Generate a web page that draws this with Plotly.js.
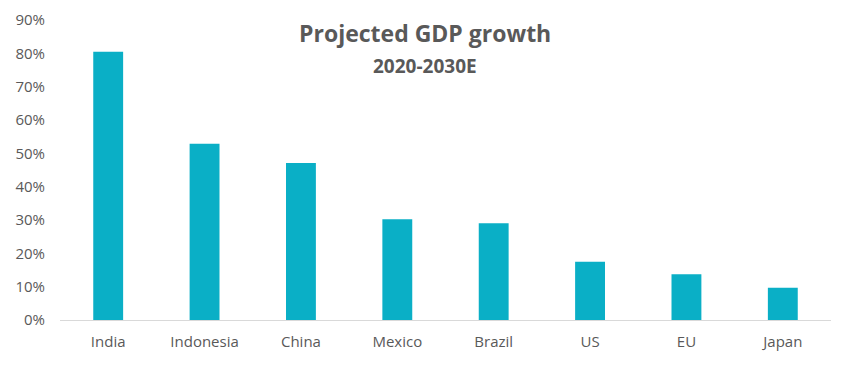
<!DOCTYPE html>
<html>
<head>
<meta charset="utf-8">
<script src="https://cdn.plot.ly/plotly-3.0.1.min.js"></script>
<style>html,body{margin:0;padding:0;background:#fff}#chart{width:851px;height:368px}</style>
</head>
<body>
<div id="chart"></div>
<script>
const categories = ["India", "Indonesia", "China", "Mexico", "Brazil", "US", "EU", "Japan"];
const growth = [0.805, 0.529, 0.471, 0.302, 0.290, 0.175, 0.137, 0.097];
const yTickVals = [0, 0.1, 0.2, 0.3, 0.4, 0.5, 0.6, 0.7, 0.8, 0.9];
const yTickText = ["0%", "10%", "20%", "30%", "40%", "50%", "60%", "70%", "80%", "90%"];
const titleText = "Projected GDP growth";
const subtitleText = "2020-2030E";

const font = "'Open Sans', 'Noto Sans', sans-serif";
const grey = "#595959";

Plotly.newPlot("chart", [{
  type: "bar",
  x: categories,
  y: growth,
  marker: {color: "#0aafc6"},
  hoverinfo: "x+y"
}], {
  width: 851, height: 368,
  margin: {l: 60, r: 20, t: 20, b: 48},
  paper_bgcolor: "#fff", plot_bgcolor: "#fff",
  bargap: 0.69,
  showlegend: false,
  font: {family: font, color: grey, size: 15},
  xaxis: {
    showline: true, linecolor: "#d9d9d9", linewidth: 1,
    ticks: "", showgrid: false, zeroline: false,
    ticklabelstandoff: 8,
    tickfont: {family: font, size: 15, color: grey}
  },
  yaxis: {
    range: [0, 0.9], tickvals: yTickVals, ticktext: yTickText,
    showgrid: false, zeroline: false, showline: false, ticks: "",
    ticklabelstandoff: 14,
    tickfont: {family: font, size: 15, color: grey}
  },
  annotations: [
    {text: "<b>" + titleText + "</b>", xref: "paper", yref: "paper", x: (425-60)/771, y: (320-33)/300, yanchor: "middle", xanchor: "center", showarrow: false, font: {family: font, size: 23, color: grey}},
    {text: "<b>" + subtitleText + "</b>", xref: "paper", yref: "paper", x: (425-60)/771, y: (320-66)/300, yanchor: "middle", xanchor: "center", showarrow: false, font: {family: font, size: 19, color: grey}}
  ]
}, {displayModeBar: false, staticPlot: true});
</script>
</body>
</html>
